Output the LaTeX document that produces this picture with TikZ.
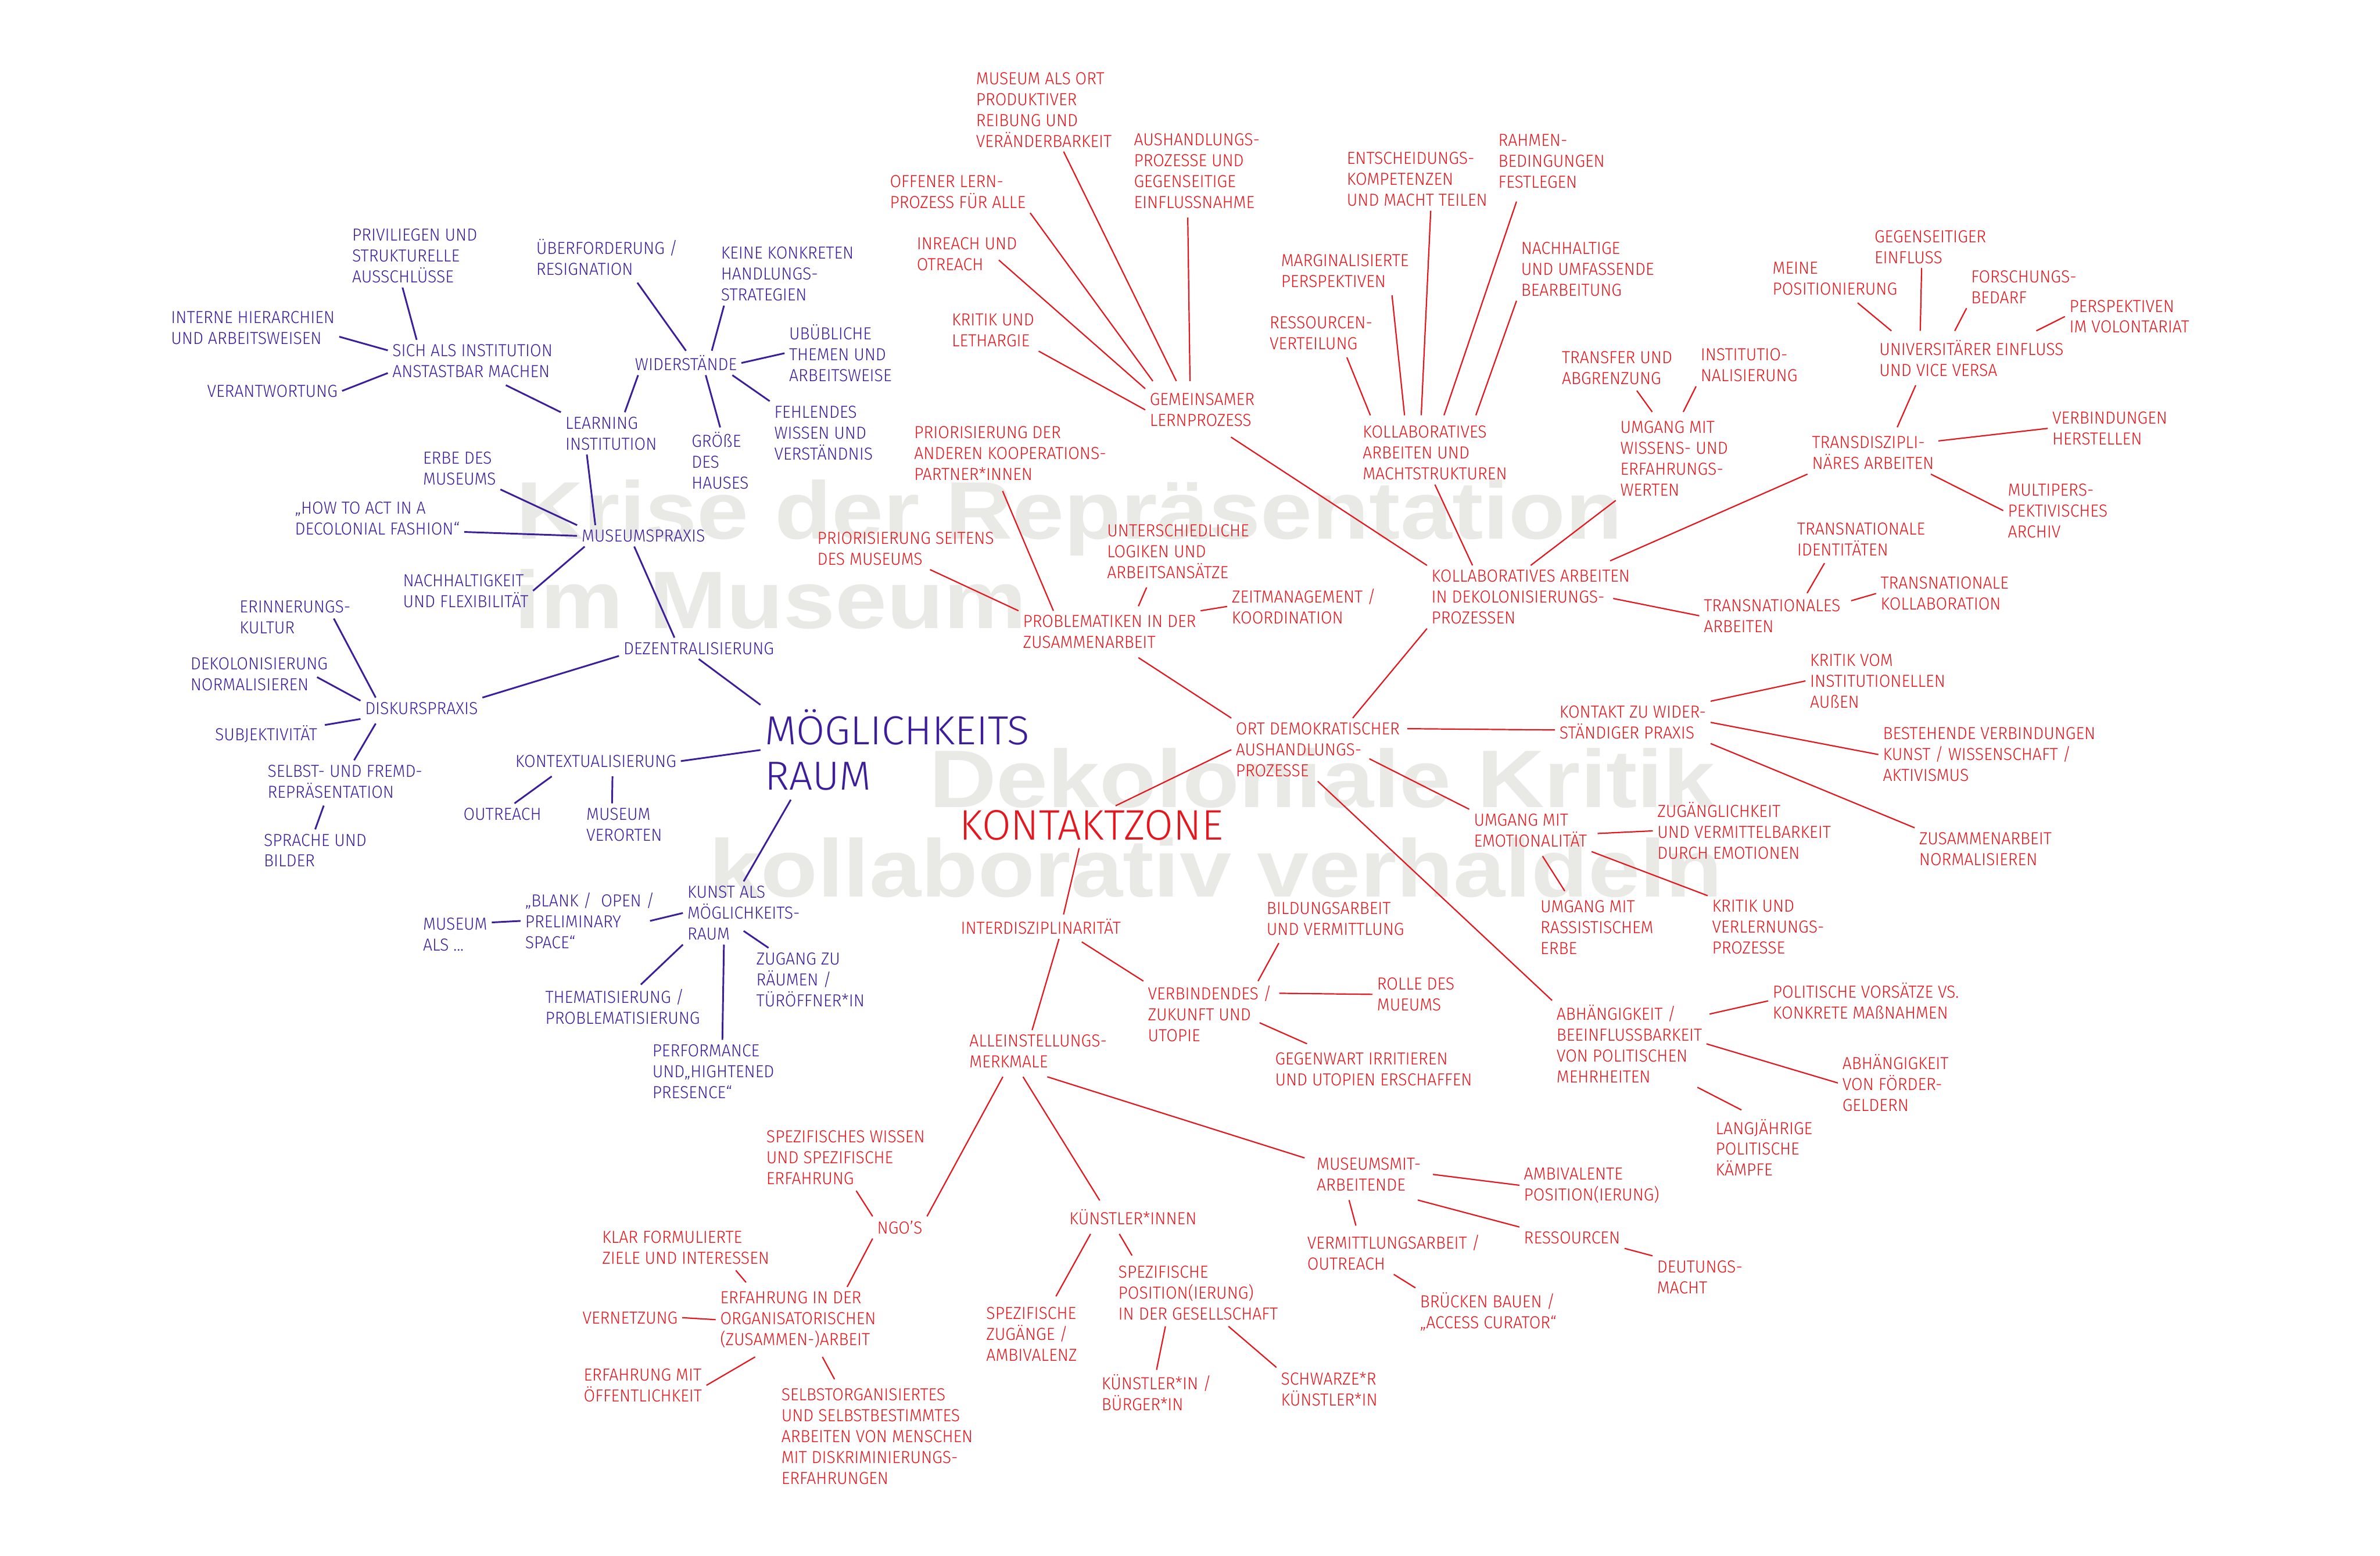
\documentclass[tikz,border=0pt]{standalone}
\usepackage{fontspec}
\IfFontExistsTF{Fira Sans Light}{%
  \setmainfont{Fira Sans Light}[FakeStretch=0.95]
  \newfontfamily\titlefont{Fira Sans Light}[FakeStretch=0.98]
  \newfontfamily\titlewide{Fira Sans Light}[FakeStretch=1.02]
}{%
  \setmainfont{Fira Sans}[FakeStretch=0.93]
  \newfontfamily\titlefont{Fira Sans}[FakeStretch=0.96]
  \newfontfamily\titlewide{Fira Sans}[FakeStretch=1.0]
}
\newfontfamily\wmfont{Liberation Sans}[FakeStretch=1.14]
\definecolor{mpurple}{RGB}{60,30,155}
\definecolor{mred}{RGB}{228,22,30}
\definecolor{wmgray}{RGB}{233,233,229}
\newcommand{\lblsize}{\fontsize{16.3}{19.6}\selectfont}

\begin{document}
\begin{tikzpicture}[x=0.05cm, y=-0.05cm,
  lbl/.style={anchor=north west, align=left, inner sep=0pt, outer sep=0.15cm, shift={(-3,-3)}, font=\lblsize},
  pnode/.style={lbl, text=mpurple},
  rnode/.style={lbl, text=mred},
  pline/.style={draw=mpurple, line width=1.6pt},
  rline/.style={draw=mred, line width=1.2pt},
  wmark/.style={anchor=base west, inner sep=0pt, text=wmgray, font=\wmfont\bfseries\fontsize{76.5}{85}\selectfont}]
\fill[white] (0,0) rectangle (1568,1025);
\useasboundingbox (0,0) rectangle (1568,1025);

% background titles
\node[wmark] (wm1) at (340,355) {Krise der Repräsentation};
\node[wmark] (wm2) at (339,414) {im Museum};
\node[wmark] (wm3) at (612,532) {Dekoloniale Kritik};
\node[wmark] (wm4) at (467,591) {kollaborativ verhaldeln};

% Moeglichkeitsraum
\node[pnode, font=\titlewide\fontsize{38}{42.7}\selectfont] (moeg) at (504,467.4) {MÖGLICHKEITS\\RAUM};
\node[pnode] (priv) at (232,150.8) {PRIVILIEGEN UND\\STRUKTURELLE\\AUSSCHLÜSSE};
\node[pnode] (uberf) at (353.3,157.4) {ÜBERFORDERUNG /\\RESIGNATION};
\node[pnode] (keine) at (475,162.7) {KEINE KONKRETEN\\HANDLUNGS-\\STRATEGIEN};
\node[pnode] (interne) at (112.7,204.9) {INTERNE HIERARCHIEN\\UND ARBEITSWEISEN};
\node[pnode] (sich) at (258.5,226.9) {SICH ALS INSTITUTION\\ANSTASTBAR MACHEN};
\node[pnode] (ubub) at (519.9,213.9) {UBÜBLICHE\\THEMEN UND\\ARBEITSWEISE};
\node[pnode] (wid) at (418.4,234.1) {WIDERSTÄNDE};
\node[pnode] (verant) at (136.5,253.5) {VERANTWORTUNG};
\node[pnode] (fehl) at (510.1,267.3) {FEHLENDES\\WISSEN UND\\VERSTÄNDNIS};
\node[pnode] (learn) at (372.5,274.6) {LEARNING\\INSTITUTION};
\node[pnode] (grosse) at (455.7,284.6) {GRÖßE\\DES\\HAUSES};
\node[pnode] (erbe) at (278.7,297.6) {ERBE DES\\MUSEUMS};
\node[pnode] (howto) at (194.3,330.6) {„HOW TO ACT IN A\\DECOLONIAL FASHION“};
\node[pnode] (mpraxis) at (383.2,349) {MUSEUMSPRAXIS};
\node[pnode] (nachh) at (265.5,378.3) {NACHHALTIGKEIT\\UND FLEXIBILITÄT};
\node[pnode] (erinn) at (157.9,395.6) {ERINNERUNGS-\\KULTUR};
\node[pnode] (dezent) at (410.8,423.1) {DEZENTRALISIERUNG};
\node[pnode] (dekol) at (125.5,433.2) {DEKOLONISIERUNG\\NORMALISIEREN};
\node[pnode] (diskurs) at (240.5,462.6) {DISKURSPRAXIS};
\node[pnode] (subj) at (141.7,478) {SUBJEKTIVITÄT};
\node[pnode] (kontext) at (339.5,497.4) {KONTEXTUALISIERUNG};
\node[pnode] (selbst) at (176.3,503.9) {SELBST- UND FREMD-\\REPRÄSENTATION};
\node[pnode] (outreach) at (305.3,532.3) {OUTREACH};
\node[pnode] (musver) at (386.3,532.3) {MUSEUM\\VERORTEN};
\node[pnode] (sprache) at (173.8,549.4) {SPRACHE UND\\BILDER};
\node[pnode] (kunst) at (452.9,583.7) {KUNST ALS\\MÖGLICHKEITS-\\RAUM};
\node[pnode] (blank) at (346,588.3) {„BLANK /~ OPEN /\\PRELIMINARY\\SPACE“};
\node[pnode] (musals) at (278.7,604.8) {MUSEUM\\ALS ...};
\node[pnode] (zugang) at (498.3,627.5) {ZUGANG ZU\\RÄUMEN /\\TÜRÖFFNER*IN};
\node[pnode] (themat) at (359.3,651.7) {THEMATISIERUNG /\\PROBLEMATISIERUNG};
\node[pnode] (perf) at (429.8,688.1) {PERFORMANCE\\UND„HIGHTENED\\PRESENCE“};

\draw[pline] ([shift={(-8,0)}]priv.south) -- ([shift={(19,0)}]sich.north west);
\draw[pline] ([shift={(0,6)}]interne.east) -- ([shift={(0,-7)}]sich.west);
\draw[pline] (verant.east) -- ([shift={(0,-6)}]sich.south west);
\draw[pline] ([shift={(22,2)}]sich.south) -- (learn.north west);
\draw[pline] ([shift={(20,2)}]uberf.south) -- (wid.north);
\draw[pline] ([shift={(5,0)}]keine.south west) -- ([shift={(17,0)}]wid.north);
\draw[pline] (wid.east) -- (ubub.west);
\draw[pline] ([shift={(-6,0)}]wid.south east) -- (fehl.north west);
\draw[pline] ([shift={(13,0)}]wid.south) -- (grosse.north);
\draw[pline] ([shift={(9,0)}]learn.north) -- ([shift={(5,0)}]wid.south west);
\draw[pline] ([shift={(-16,0)}]learn.south) -- ([shift={(12,0)}]mpraxis.north west);
\draw[pline] (erbe.south east) -- (mpraxis.north west);
\draw[pline] ([shift={(0,-5)}]howto.south east) -- (mpraxis.west);
\draw[pline] ([shift={(5,0)}]mpraxis.south west) -- (nachh.east);
\draw[pline] ([shift={(-6,0)}]mpraxis.south) -- ([shift={(-16,0)}]dezent.north);
\draw[pline] ([shift={(0,5)}]dezent.west) -- (diskurs.north east);
\draw[pline] (dezent.south) -- (moeg.north west);
\draw[pline] ([shift={(-14,1)}]erinn.east) -- ([shift={(10,0)}]diskurs.north west);
\draw[pline] ([shift={(-10,2)}]dekol.east) -- ([shift={(0,-5)}]diskurs.west);
\draw[pline] ([shift={(2,-6)}]subj.east) -- (diskurs.south west);
\draw[pline] ([shift={(10,3)}]diskurs.south west) -- ([shift={(6,0)}]selbst.north);
\draw[pline] ([shift={(-14,2)}]selbst.south) -- (sprache.north);
\draw[pline] (moeg.west) -- (kontext.east);
\draw[pline] ([shift={(27,3)}]kontext.south west) -- ([shift={(8,0)}]outreach.north);
\draw[pline] ([shift={(11,3)}]kontext.south) -- ([shift={(-8,0)}]musver.north);
\draw[pline] ([shift={(20,3)}]moeg.south west) -- (kunst.north);
\draw[pline] (kunst.west) -- ([shift={(-6,0)}]blank.east);
\draw[pline] (blank.west) -- ([shift={(0,-8)}]musals.east);
\draw[pline] ([shift={(0,-9)}]kunst.south) -- ([shift={(11,0)}]zugang.north west);
\draw[pline] (kunst.south west) -- ([shift={(12,0)}]themat.north);
\draw[pline] ([shift={(-13,0)}]kunst.south) -- ([shift={(6,0)}]perf.north);

% Kontaktzone
\node[rnode, font=\titlefont\fontsize{40}{44}\selectfont] (kontaktzone) at (632.2,533.9) {KONTAKTZONE};
\node[rnode] (musort) at (643.1,47.6) {MUSEUM ALS ORT\\PRODUKTIVER\\REIBUNG UND\\VERÄNDERBARKEIT};
\node[rnode] (aush) at (747.1,87.9) {AUSHANDLUNGS-\\PROZESSE UND\\GEGENSEITIGE\\EINFLUSSNAHME};
\node[rnode] (rahmen) at (987.1,88.3) {RAHMEN-\\BEDINGUNGEN\\FESTLEGEN};
\node[rnode] (entsch) at (887.3,100.2) {ENTSCHEIDUNGS-\\KOMPETENZEN\\UND MACHT TEILEN};
\node[rnode] (offen) at (586.3,115.4) {OFFENER LERN-\\PROZESS FÜR ALLE};
\node[rnode] (gegens) at (1235,151.7) {GEGENSEITIGER\\EINFLUSS};
\node[rnode] (inreach) at (604,156.4) {INREACH UND\\OTREACH};
\node[rnode] (nachhaltige) at (1002.1,159.5) {NACHHALTIGE\\UND UMFASSENDE\\BEARBEITUNG};
\node[rnode] (margin) at (844,167.7) {MARGINALISIERTE\\PERSPEKTIVEN};
\node[rnode] (meine) at (1167.8,172.8) {MEINE\\POSITIONIERUNG};
\node[rnode] (forsch) at (1298.6,178.3) {FORSCHUNGS-\\BEDARF};
\node[rnode] (perspvol) at (1363.4,197.6) {PERSPEKTIVEN\\IM VOLONTARIAT};
\node[rnode] (kritlet) at (627.1,206.6) {KRITIK UND\\LETHARGIE};
\node[rnode] (ressvert) at (836.5,208.6) {RESSOURCEN-\\VERTEILUNG};
\node[rnode] (univ) at (1238.1,224) {UNIVERSITÄRER EINFLUSS\\UND VICE VERSA};
\node[rnode] (transfer) at (1029,231.5) {TRANSFER UND\\ABGRENZUNG};
\node[rnode] (instit) at (1120.4,229.7) {INSTITUTIO-\\NALISIERUNG};
\node[rnode] (gemeins) at (757.5,259.1) {GEMEINSAMER\\LERNPROZESS};
\node[rnode] (verbind) at (1352.1,271.3) {VERBINDUNGEN\\HERSTELLEN};
\node[rnode] (umgwiss) at (1067.5,277.4) {UMGANG MIT\\WISSENS- UND\\ERFAHRUNGS-\\WERTEN};
\node[rnode] (kollmacht) at (897.8,280.6) {KOLLABORATIVES\\ARBEITEN UND\\MACHTSTRUKTUREN};
\node[rnode] (priander) at (602.3,281) {PRIORISIERUNG DER\\ANDEREN KOOPERATIONS-\\PARTNER*INNEN};
\node[rnode] (transdis) at (1193.8,287.5) {TRANSDISZIPLI-\\NÄRES ARBEITEN};
\node[rnode] (multi) at (1322.8,318.6) {MULTIPERS-\\PEKTIVISCHES\\ARCHIV};
\node[rnode] (untersch) at (729.4,345.4) {UNTERSCHIEDLICHE\\LOGIKEN UND\\ARBEITSANSÄTZE};
\node[rnode] (transid) at (1184,344.3) {TRANSNATIONALE\\IDENTITÄTEN};
\node[rnode] (priseit) at (538.5,350.4) {PRIORISIERUNG SEITENS\\DES MUSEUMS};
\node[rnode] (kolldekol) at (943.1,375.5) {KOLLABORATIVES ARBEITEN\\IN DEKOLONISIERUNGS-\\PROZESSEN};
\node[rnode] (transkoll) at (1239,380.1) {TRANSNATIONALE\\KOLLABORATION};
\node[rnode] (zeitm) at (811.5,388) {ZEITMANAGEMENT /\\KOORDINATION};
\node[rnode] (transarb) at (1122.5,394.8) {TRANSNATIONALES\\ARBEITEN};
\node[rnode] (problem) at (674,405.4) {PROBLEMATIKEN IN DER\\ZUSAMMENARBEIT};
\node[rnode] (kritvom) at (1192.5,430.8) {KRITIK VOM\\INSTITUTIONELLEN\\AUßEN};
\node[rnode] (kontakt) at (1027.4,465) {KONTAKT ZU WIDER-\\STÄNDIGER PRAXIS};
\node[rnode] (ortdem) at (814.2,476.1) {ORT DEMOKRATISCHER\\AUSHANDLUNGS-\\PROZESSE};
\node[rnode] (bestehend) at (1240.5,479.3) {BESTEHENDE VERBINDUNGEN\\KUNST / WISSENSCHAFT /\\AKTIVISMUS};
\node[rnode] (zugangl) at (1091.9,528.6) {ZUGÄNGLICHKEIT\\UND VERMITTELBARKEIT\\DURCH EMOTIONEN};
\node[rnode] (umgemo) at (971,536.2) {UMGANG MIT\\EMOTIONALITÄT};
\node[rnode] (zusnorm) at (1264.4,548.4) {ZUSAMMENARBEIT\\NORMALISIEREN};
\node[rnode] (bildung) at (834.5,594.5) {BILDUNGSARBEIT\\UND VERMITTLUNG};
\node[rnode] (umgrass) at (1014.9,593.1) {UMGANG MIT\\RASSISTISCHEM\\ERBE};
\node[rnode] (kritverl) at (1128,593.1) {KRITIK UND\\VERLERNUNGS-\\PROZESSE};
\node[rnode] (interdis) at (633,605.5) {INTERDISZIPLINARITÄT};
\node[rnode] (verbindendes) at (756.3,649.4) {VERBINDENDES /\\ZUKUNFT UND\\UTOPIE};
\node[rnode] (rolle) at (907.2,644.2) {ROLLE DES\\MUEUMS};
\node[rnode] (polvors) at (1167.9,647.5) {POLITISCHE VORSÄTZE VS.\\KONKRETE MAßNAHMEN};
\node[rnode] (abhpol) at (1025.5,662.1) {ABHÄNGIGKEIT /\\BEEINFLUSSBARKEIT\\VON POLITISCHEN\\MEHRHEITEN};
\node[rnode] (allein) at (638.7,681.7) {ALLEINSTELLUNGS-\\MERKMALE};
\node[rnode] (gegenw) at (840.1,693.7) {GEGENWART IRRITIEREN\\UND UTOPIEN ERSCHAFFEN};
\node[rnode] (abhfoerd) at (1213.8,694.7) {ABHÄNGIGKEIT\\VON FÖRDER-\\GELDERN};
\node[rnode] (langj) at (1130.3,737.3) {LANGJÄHRIGE\\POLITISCHE\\KÄMPFE};
\node[rnode] (spezwiss) at (504.9,744.9) {SPEZIFISCHES WISSEN\\UND SPEZIFISCHE\\ERFAHRUNG};
\node[rnode] (musmit) at (867.5,762.9) {MUSEUMSMIT-\\ARBEITENDE};
\node[rnode] (ambiv) at (1004,769.3) {AMBIVALENTE\\POSITION(IERUNG)};
\node[rnode] (kuenstlerinnen) at (704.5,796.9) {KÜNSTLER*INNEN};
\node[rnode] (ngos) at (577.9,804.4) {NGO’S};
\node[rnode] (klar) at (396.7,811.1) {KLAR FORMULIERTE\\ZIELE UND INTERESSEN};
\node[rnode] (ressourcen) at (1004,811.4) {RESSOURCEN};
\node[rnode] (vermout) at (861.3,813.5) {VERMITTLUNGSARBEIT /\\OUTREACH};
\node[rnode] (spezpos) at (736.8,834.2) {SPEZIFISCHE\\POSITION(IERUNG)\\IN DER GESELLSCHAFT};
\node[rnode] (deutung) at (1091.7,830.4) {DEUTUNGS-\\MACHT};
\node[rnode] (erforg) at (474.5,850.9) {ERFAHRUNG IN DER\\ORGANISATORISCHEN\\(ZUSAMMEN-)ARBEIT};
\node[rnode] (bruecken) at (935.5,851.5) {BRÜCKEN BAUEN /\\„ACCESS CURATOR“};
\node[rnode] (spezzug) at (649.8,861.1) {SPEZIFISCHE\\ZUGÄNGE /\\AMBIVALENZ};
\node[rnode] (vernetz) at (383.8,864.1) {VERNETZUNG};
\node[rnode] (erfoeff) at (384.6,901.8) {ERFAHRUNG MIT\\ÖFFENTLICHKEIT};
\node[rnode] (kuenbuerg) at (725.8,905.5) {KÜNSTLER*IN /\\BÜRGER*IN};
\node[rnode] (schwarz) at (843.9,903.9) {SCHWARZE*R\\KÜNSTLER*IN};
\node[rnode] (selbstorg) at (514.8,914.7) {SELBSTORGANISIERTES\\UND SELBSTBESTIMMTES\\ARBEITEN VON MENSCHEN\\MIT DISKRIMINIERUNGS-\\ERFAHRUNGEN};

\draw[rline] ([shift={(13,0)}]musort.south) -- ([shift={(-17,-5)}]gemeins.north);
\draw[rline] ([shift={(-6,3)}]aush.south) -- ([shift={(-8,-5)}]gemeins.north);
\draw[rline] (offen.south east) -- ([shift={(5,-5)}]gemeins.north west);
\draw[rline] ([shift={(-15,4)}]inreach.east) -- (gemeins.north west);
\draw[rline] (kritlet.south east) -- (gemeins.west);
\draw[rline] ([shift={(19,4)}]gemeins.south) -- (kolldekol.north west);
\draw[rline] ([shift={(9,0)}]entsch.south) -- ([shift={(-9,-4)}]kollmacht.north);
\draw[rline] ([shift={(15,6)}]rahmen.south west) -- ([shift={(6,-4)}]kollmacht.north);
\draw[rline] (nachhaltige.south west) -- ([shift={(27,-4)}]kollmacht.north);
\draw[rline] ([shift={(-14,2)}]margin.south east) -- ([shift={(-20,-4)}]kollmacht.north);
\draw[rline] ([shift={(17,2)}]ressvert.south) -- ([shift={(8,-4)}]kollmacht.north west);
\draw[rline] (kollmacht.south) -- ([shift={(30,0)}]kolldekol.north west);
\draw[rline] (umgwiss.south west) -- (kolldekol.north);
\draw[rline] (transdis.south west) -- ([shift={(-16,-3)}]kolldekol.north east);
\draw[rline] ([shift={(-5,4)}]priander.south) -- ([shift={(23,0)}]problem.north west);
\draw[rline] ([shift={(16,0)}]priseit.south) -- (problem.north west);
\draw[rline] ([shift={(29,3)}]untersch.south west) -- ([shift={(19,-3)}]problem.north);
\draw[rline] (zeitm.west) -- (problem.north east);
\draw[rline] ([shift={(19,3)}]problem.south) -- (ortdem.north west);
\draw[rline] (kolldekol.south west) -- ([shift={(23,0)}]ortdem.north);
\draw[rline] ([shift={(2,7)}]ortdem.north east) -- ([shift={(0,5)}]kontakt.west);
\draw[rline] (ortdem.west) -- ([shift={(16,0)}]kontaktzone.north);
\draw[rline] ([shift={(-23,6)}]ortdem.east) -- (umgemo.north west);
\draw[rline] (ortdem.south) -- (abhpol.north west);
\draw[rline] ([shift={(4,2)}]umgemo.east) -- (zugangl.west);
\draw[rline] ([shift={(8,3)}]umgemo.south) -- ([shift={(19,-3)}]umgrass.north west);
\draw[rline] (umgemo.south east) -- (kritverl.north west);
\draw[rline] ([shift={(-8,2)}]kontaktzone.south) -- ([shift={(15,0)}]interdis.north);
\draw[rline] ([shift={(12,0)}]interdis.south) -- ([shift={(-4,0)}]allein.north);
\draw[rline] ([shift={(27,2)}]interdis.south) -- (verbindendes.north west);
\draw[rline] ([shift={(11,2)}]bildung.south west) -- ([shift={(-12,0)}]verbindendes.north east);
\draw[rline] ([shift={(2,8)}]verbindendes.north east) -- (rolle.west);
\draw[rline] ([shift={(-11,6)}]verbindendes.east) -- ([shift={(24,-3)}]gegenw.north west);
\draw[rline] ([shift={(25,3)}]allein.south west) -- (ngos.north east);
\draw[rline] ([shift={(-10,3)}]allein.south) -- ([shift={(23,-3)}]kuenstlerinnen.north west);
\draw[rline] ([shift={(6,3)}]allein.south) -- ([shift={(-5,3)}]musmit.north west);
\draw[rline] ([shift={(7,1)}]spezwiss.south) -- (ngos.north west);
\draw[rline] (ngos.south west) -- ([shift={(-22,0)}]erforg.north east);
\draw[rline] ([shift={(33,1)}]klar.south) -- ([shift={(20,-3)}]erforg.north west);
\draw[rline] (vernetz.east) -- (erforg.west);
\draw[rline] ([shift={(26,3)}]erforg.south west) -- (erfoeff.east);
\draw[rline] ([shift={(16,3)}]erforg.south) -- ([shift={(38,-3)}]selbstorg.north west);
\draw[rline] ([shift={(17,3)}]kuenstlerinnen.south west) -- ([shift={(16,-4)}]spezzug.north);
\draw[rline] ([shift={(-9,3)}]kuenstlerinnen.south) -- ([shift={(12,-4)}]spezpos.north west);
\draw[rline] ([shift={(34,1)}]spezpos.south west) -- (kuenbuerg.north);
\draw[rline] ([shift={(20,1)}]spezpos.south) -- (schwarz.north west);
\draw[rline] ([shift={(5,0)}]musmit.east) -- (ambiv.west);
\draw[rline] ([shift={(-5,3)}]musmit.south east) -- (ressourcen.north west);
\draw[rline] ([shift={(-13,3)}]musmit.south) -- ([shift={(35,-3)}]vermout.north west);
\draw[rline] (ressourcen.south east) -- (deutung.north west);
\draw[rline] (vermout.south) -- (bruecken.north west);
\draw[rline] (kontakt.north east) -- (kritvom.west);
\draw[rline] (kontakt.east) -- (bestehend.west);
\draw[rline] (kontakt.south east) -- (zusnorm.north west);
\draw[rline] ([shift={(2,9)}]abhpol.north east) -- (polvors.west);
\draw[rline] (abhpol.east) -- (abhfoerd.west);
\draw[rline] ([shift={(-6,0)}]abhpol.south east) -- ([shift={(20,-3)}]langj.north west);
\draw[rline] ([shift={(15,2)}]meine.south) -- ([shift={(11,-3)}]univ.north west);
\draw[rline] ([shift={(34,0)}]gegens.south west) -- ([shift={(30,-3)}]univ.north west);
\draw[rline] (forsch.south west) -- ([shift={(-11,-3)}]univ.north);
\draw[rline] (perspvol.west) -- ([shift={(-21,-3)}]univ.north east);
\draw[rline] ([shift={(27,3)}]univ.south west) -- ([shift={(16,-3)}]transdis.north);
\draw[rline] ([shift={(0,6)}]transdis.north east) -- (verbind.west);
\draw[rline] ([shift={(-5,0)}]transdis.south east) -- (multi.west);
\draw[rline] ([shift={(13,1)}]transfer.south) -- ([shift={(24,-3)}]umgwiss.north west);
\draw[rline] (instit.south west) -- ([shift={(6,-3)}]umgwiss.north);
\draw[rline] ([shift={(-14,1)}]kolldekol.east) -- (transarb.west);
\draw[rline] ([shift={(21,2)}]transid.south west) -- ([shift={(-25,-1)}]transarb.north east);
\draw[rline] ([shift={(4,4)}]transarb.north east) -- (transkoll.west);
\end{tikzpicture}
\end{document}
